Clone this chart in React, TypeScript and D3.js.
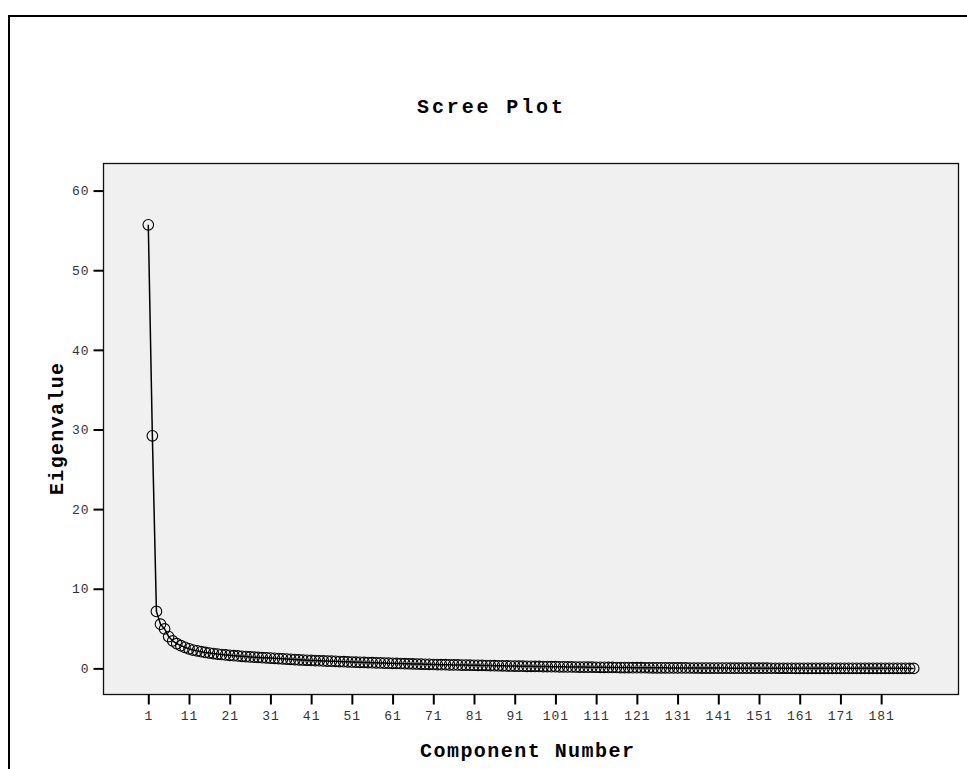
import React, { useEffect, useRef } from 'react';
import * as d3 from 'd3';

// eigenvalues, component 1..189
const eigenvalues = [
  55.7, 29.2, 7.15, 5.55, 4.95, 4.0, 3.45, 3.1, 2.85, 2.65,
  2.45, 2.3, 2.2, 2.1, 2.0, 1.93, 1.86, 1.8, 1.74, 1.69,
  1.64, 1.6, 1.56, 1.52, 1.48, 1.44, 1.41, 1.38, 1.35, 1.32,
  1.29, 1.26, 1.23, 1.2, 1.17, 1.14, 1.11, 1.08, 1.05, 1.02,
  1.0, 0.98, 0.96, 0.94, 0.92, 0.9, 0.88, 0.86, 0.84, 0.82,
  0.8, 0.78, 0.76, 0.745, 0.73, 0.715, 0.7, 0.685, 0.67, 0.655,
  0.64, 0.625, 0.61, 0.595, 0.58, 0.565, 0.55, 0.535, 0.52, 0.505,
  0.49, 0.48, 0.47, 0.46, 0.45, 0.44, 0.43, 0.42, 0.41, 0.4,
  0.39, 0.38, 0.37, 0.36, 0.35, 0.34, 0.33, 0.32, 0.31, 0.3,
  0.29, 0.28, 0.272, 0.264, 0.256, 0.248, 0.24, 0.232, 0.224, 0.216,
  0.208, 0.2, 0.193, 0.186, 0.179, 0.172, 0.165, 0.158, 0.152, 0.146,
  0.14, 0.134, 0.128, 0.122, 0.117, 0.112, 0.107, 0.102, 0.098, 0.094,
  0.09, 0.086, 0.082, 0.078, 0.075, 0.072, 0.069, 0.066, 0.063, 0.06,
  0.058, 0.055, 0.053, 0.05, 0.048, 0.046, 0.044, 0.042, 0.04, 0.038,
  0.036, 0.034, 0.033, 0.031, 0.03, 0.028, 0.027, 0.026, 0.024, 0.023,
  0.022, 0.021, 0.02, 0.019, 0.018, 0.017, 0.016, 0.015, 0.014, 0.013,
  0.012, 0.011, 0.011, 0.01, 0.009, 0.009, 0.008, 0.008, 0.007, 0.007,
  0.006, 0.006, 0.005, 0.005, 0.004, 0.004, 0.004, 0.003, 0.003, 0.003,
  0.002, 0.002, 0.002, 0.001, 0.001, 0.001, 0.001, 0.0005, 0.0002,
];
const components = eigenvalues.map((_, i) => i + 1);

const xTicks = [1, 11, 21, 31, 41, 51, 61, 71, 81, 91, 101, 111, 121, 131, 141, 151, 161, 171, 181];
const yTicks = [0, 10, 20, 30, 40, 50, 60];

const title = 'Scree Plot';
const xLabel = 'Component Number';
const yLabel = 'Eigenvalue';

const W = 967;
const H = 769;
const FONT = '"Liberation Mono", "DejaVu Sans Mono", monospace';

const App = () => {
  const ref = useRef<SVGSVGElement>(null);

  useEffect(() => {
    const svg = d3.select(ref.current);
    svg.selectAll('*').remove();

    const plot = { left: 103.5, top: 163.5, right: 958.5, bottom: 694.5 };

    const x = d3.scaleLinear().domain([-10, 200]).range([plot.left, plot.right]);
    const y = d3.scaleLinear().domain([-3.28, 63.4]).range([plot.bottom, plot.top]);

    // outer frame, only its left and top edges fall inside the picture
    svg.append('path')
      .attr('d', `M9,${H + 5}V16H${W + 5}`)
      .attr('fill', 'none')
      .attr('stroke', '#000')
      .attr('stroke-width', 2);

    svg.append('rect')
      .attr('x', plot.left)
      .attr('y', plot.top)
      .attr('width', plot.right - plot.left)
      .attr('height', plot.bottom - plot.top)
      .attr('fill', '#f0f0f0')
      .attr('stroke', '#111')
      .attr('stroke-width', 1.3);

    svg.append('text')
      .attr('x', 490)
      .attr('y', 113)
      .attr('text-anchor', 'middle')
      .attr('font-family', FONT)
      .attr('font-size', 20)
      .attr('font-weight', 'bold')
      .attr('textLength', 146)
      .attr('lengthAdjust', 'spacing')
      .text(title);

    const yAxis = svg.append('g')
      .attr('transform', `translate(${plot.left},0)`)
      .call(d3.axisLeft(y).tickValues(yTicks).tickSize(10).tickPadding(4));
    yAxis.select('.domain').remove();
    yAxis.selectAll('line').attr('stroke', '#000').attr('stroke-width', 2);
    yAxis.selectAll('text')
      .attr('font-family', FONT)
      .attr('font-size', 13)
      .attr('letter-spacing', 1)
      .attr('fill', '#333');

    const xAxis = svg.append('g')
      .attr('transform', `translate(0,${plot.bottom})`)
      .call(d3.axisBottom(x).tickValues(xTicks).tickSize(10).tickPadding(6));
    xAxis.select('.domain').remove();
    xAxis.selectAll('line').attr('stroke', '#000').attr('stroke-width', 2);
    xAxis.selectAll('text')
      .attr('font-family', FONT)
      .attr('font-size', 13)
      .attr('letter-spacing', 1)
      .attr('fill', '#333');

    svg.append('text')
      .attr('x', 527)
      .attr('y', 757)
      .attr('text-anchor', 'middle')
      .attr('font-family', FONT)
      .attr('font-size', 20)
      .attr('font-weight', 'bold')
      .attr('textLength', 214)
      .attr('lengthAdjust', 'spacing')
      .text(xLabel);

    svg.append('text')
      .attr('transform', `translate(63,429) rotate(-90)`)
      .attr('text-anchor', 'middle')
      .attr('font-family', FONT)
      .attr('font-size', 20)
      .attr('font-weight', 'bold')
      .attr('textLength', 132)
      .attr('lengthAdjust', 'spacing')
      .text(yLabel);

    const pts = components.map((c, i) => [c, eigenvalues[i]] as [number, number]);

    svg.append('path')
      .datum(pts)
      .attr('fill', 'none')
      .attr('stroke', '#000')
      .attr('stroke-width', 1.5)
      .attr('d', d3.line().x(d => x(d[0])).y(d => y(d[1])));

    svg.append('g')
      .selectAll('circle')
      .data(pts)
      .enter().append('circle')
      .attr('cx', d => x(d[0]))
      .attr('cy', d => y(d[1]))
      .attr('r', 5.3)
      .attr('fill', 'none')
      .attr('stroke', '#000')
      .attr('stroke-width', 1.1);
  }, []);

  return (
    <svg
      ref={ref}
      width={W}
      height={H}
      style={{ position: 'absolute', left: 0, top: 0, display: 'block', background: '#fff' }}
    />
  );
};

export default App;
